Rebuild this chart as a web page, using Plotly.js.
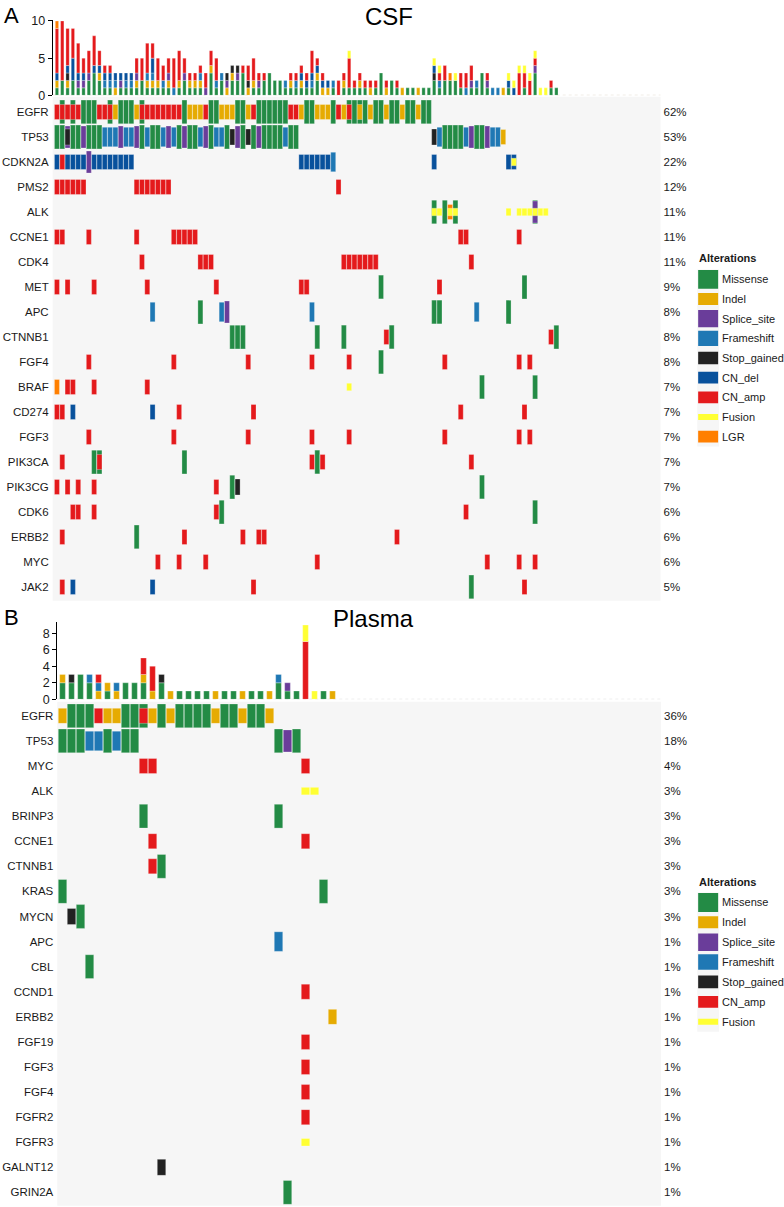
<!DOCTYPE html>
<html><head><meta charset="utf-8">
<script src="https://cdn.plot.ly/plotly-3.0.1.min.js"></script>
<style>html,body{margin:0;padding:0;background:#fff}#chart{width:784px;height:1207px}</style>
</head><body><div id="chart"></div>
<script>
// ---------------- DATA ----------------
// Alteration codes: M Missense, I Indel, P Splice_site, F Frameshift, S Stop_gained,
// D CN_del, A CN_amp, U Fusion, L LGR.  Tokens are "sampleIndex+codes".
const csfTotalSamples = 114;
const csfGenes = ["EGFR","TP53","CDKN2A","PMS2","ALK","CCNE1","CDK4","MET","APC","CTNNB1","FGF4","BRAF","CD274","FGF3","PIK3CA","PIK3CG","CDK6","ERBB2","MYC","JAK2"];
const csfPct = ["62%","53%","22%","12%","11%","11%","11%","9%","8%","8%","8%","7%","7%","7%","7%","7%","6%","6%","6%","5%"];
const csfCells = [
 "0A 1MA 2A 3MA 4A 5M 6M 7M 8A 9A 10MA 11I 12M 13M 14M 15I 16MA 17A 18A 19A 20A 21A 22A 23A 24M 25I 26I 27I 28A 29M 30M 31I 32I 33I 34M 35M 36I 37A 38M 39M 40M 41M 42M 43M 44A 45A 46I 47M 48M 49I 50I 51I 52M 53A 54I 55MA 56M 57MI 58M 59I 60M 61M 62I 63M 64M 65I 66M 67M 68I 69M 70M",
 "0M 1M 2PS 3M 4M 5P 6M 7M 8M 9F 10F 11F 12P 13F 14F 15P 16M 17F 18M 19M 20F 21P 22F 23M 24P 25M 26M 27F 28P 29M 30F 31F 32M 33S 34P 35M 36S 37M 38P 39M 40M 41M 42M 43F 44M 45M 71S 72F 73M 74M 75M 76M 77F 78P 79M 80M 81P 82F 83F 84I",
 "0D 1A 2D 3D 4D 5D 6P 7D 8D 9D 10D 11D 12D 13D 14D 46D 47D 48D 49D 50D 51D 52F 71D 85D 86DU",
 "0A 1A 2A 3A 4A 5A 15A 16A 17A 18A 19A 20A 21A 53A",
 "71MU 72U 73M 74LU 75MU 85U 87U 88U 89U 90MPU 91U 92U",
 "0A 1A 6A 15A 22A 23A 24A 25A 26A 76A 77A 87A",
 "16A 27A 28A 29A 54A 55A 56A 57A 58A 59A 60A 78A",
 "0A 2A 7A 17A 30A 46A 47A 61M 72A 88M",
 "18F 27M 31F 32P 48F 71M 72M 79F 85M",
 "33M 34M 35M 49M 54M 62A 63M 93A 94M",
 "6A 22A 36A 48A 55A 61M 73A 87A 89A",
 "0L 2A 3A 7A 17A 55U 80M 90M",
 "0A 1A 3D 18D 23A 37A 76A 88A",
 "6A 22A 36A 48A 55A 73A 87A 89A",
 "1A 7M 8MA 24M 48A 49M 50A 78A",
 "0A 2A 4A 7A 30A 33M 34S 80M",
 "3A 4A 7A 30A 31M 77A 90M",
 "1A 15M 24A 35A 38A 39A 64A",
 "19A 23A 28A 49A 81A 87A 90A",
 "1A 3D 18D 37A 78M 88A"
];
// Alteration counts per sample (top bar chart), one letter per alteration
const csfBarStacks = ["MIDAAAAAAL","MMAAAAAAAA","MISDAAAAA","MMDDDAAAA","MPDAAAA","MPDAA","MMPAAA","MMMDAAAA","MMIDAA","MFDA",
 "MFDA","IFD","MPD","MFD","MFD","MIPAA","MMAAA","MIFAAAA","MIFDDAA","MIAAA",
 "MFAA","MIPAA","FAAAA","MIAAAA","MMPAA","MIA","MIA","MIFA","PAA","MMMIAA",
 "MFAAA","MMF","IPS","MMIS","MMPS","MMMA","ISAA","MIAAA","MPA","MMA",
 "MMM","MM","MM","MF","MIA","MFA","MIDA","MDA","MFDAAA","MMIDA",
 "IDA","ID","MF","AA","MIA","MAAAAU","MA","MIA","MA","IA",
 "MA","MMM","IA","MM","MA","I","M","M","I","M",
 "M","MMSDU","MFAU","MMAA","MML","MMU","MAA","FAA","MPAA","MF",
 "MMM","MPA","F","F","I","MDU","DU","AAAU","MAAU","AAU",
 "MMMPAU","U","U","MA","M"];
const csfLegend = ["M","I","P","F","S","D","A","U","L"];

const plTotalSamples = 67;
const plGenes = ["EGFR","TP53","MYC","ALK","BRINP3","CCNE1","CTNNB1","KRAS","MYCN","APC","CBL","CCND1","ERBB2","FGF19","FGF3","FGF4","FGFR2","FGFR3","GALNT12","GRIN2A"];
const plPct = ["36%","18%","4%","3%","3%","3%","3%","3%","3%","1%","1%","1%","1%","1%","1%","1%","1%","1%","1%","1%"];
const plCells = [
 "0I 1M 2M 3M 4A 5I 6I 7M 8M 9MA 10I 11M 12I 13M 14M 15M 16M 17I 18M 19M 20I 21M 22M 23I",
 "0M 1M 2M 3F 4F 5M 6F 7M 8M 24M 25P 26M",
 "9A 10A 27A",
 "27U 28U",
 "9M 24M",
 "10A 27A",
 "10A 11M",
 "0M 29M",
 "1S 2M",
 "24F",
 "3M",
 "27A",
 "30I",
 "27A",
 "27A",
 "27A",
 "27A",
 "27U",
 "11S",
 "25M"
];
const plBarStacks = ["MMI","MMS","MMM","MMF","IFA","MI","IF","MM","MM","MMIAA",
 "IAAA","MMS","I","M","M","M","M","I","M","M",
 "I","M","M","I","MMF","MP","M","AAAAAAAUU","U","M","I"];
const plLegend = ["M","I","P","F","S","A","U"];

// ---------------- STYLE ----------------
const TYPES = {
 M:{name:"Missense",    color:"#238B45", h:0.95},
 I:{name:"Indel",       color:"#E6AB02", h:0.60},
 P:{name:"Splice_site", color:"#6A3D9A", h:0.88},
 F:{name:"Frameshift",  color:"#1F78B4", h:0.78},
 S:{name:"Stop_gained", color:"#222222", h:0.64},
 D:{name:"CN_del",      color:"#08519C", h:0.60},
 A:{name:"CN_amp",      color:"#E41A1C", h:0.60},
 U:{name:"Fusion",      color:"#FFFF33", h:0.30},
 L:{name:"LGR",         color:"#FF7F00", h:0.60}
};
const DRAW_ORDER = ["M","P","F","S","D","A","I","L","U"];
const STACK_ORDER = ["M","I","P","F","S","D","A","U","L"];
const W = 784, H = 1207;
const FONT = "Liberation Sans, Arial, Helvetica, sans-serif";
const fx = px => px / W;
const dom = (top, bottom) => [1 - bottom / H, 1 - top / H];

function parseCells(cells){
  return cells.map(row => row.split(/\s+/).filter(Boolean).map(t => {
    const m = t.match(/^(\d+)([A-Z]+)$/); return {s:+m[1], codes:m[2]};
  }));
}
function gridTraces(cells, xa, ya){
  const rows = parseCells(cells), out = [];
  DRAW_ORDER.forEach(code => {
    const xs=[], ys=[], bs=[];
    rows.forEach((row, r) => row.forEach(c => {
      if (c.codes.includes(code)) { xs.push(c.s); ys.push(TYPES[code].h); bs.push(r - TYPES[code].h/2); }
    }));
    if (xs.length) out.push({type:"bar", x:xs, y:ys, base:bs, xaxis:xa, yaxis:ya, width:0.94,
      marker:{color:TYPES[code].color, line:{color:"rgba(255,255,255,0.55)", width:0.5}},
      hoverinfo:"skip", showlegend:false});
  });
  return out;
}
function barTraces(stacks, xa, ya, w){
  const out = [];
  const cum = stacks.map(() => 0);
  STACK_ORDER.forEach(code => {
    const xs=[], ys=[], bs=[];
    stacks.forEach((st, i) => {
      const n = st.split("").filter(ch => ch === code).length;
      if (n) { xs.push(i); ys.push(n); bs.push(cum[i]); cum[i] += n; }
    });
    if (xs.length) out.push({type:"bar", x:xs, y:ys, base:bs, xaxis:xa, yaxis:ya, width:w,
      marker:{color:TYPES[code].color, line:{color:"rgba(255,255,255,0.7)", width:0.4}},
      hoverinfo:"skip", showlegend:false});
  });
  return out;
}
function legendTraces(codes, xa, ya){
  return codes.map((code, i) => ({type:"bar", x:[0], y:[TYPES[code].h], base:[i - TYPES[code].h/2],
    xaxis:xa, yaxis:ya, width:0.92, marker:{color:TYPES[code].color, line:{width:0}},
    hoverinfo:"skip", showlegend:false}));
}
const dummy = (xa, ya) => ({type:"scatter", mode:"markers", x:[0], y:[0], xaxis:xa, yaxis:ya,
  marker:{opacity:0, size:1}, hoverinfo:"skip", showlegend:false});

const data = [].concat(
  barTraces(csfBarStacks, "x", "y", 0.62),
  gridTraces(csfCells, "x2", "y2"),
  [dummy("x2","y3")],
  legendTraces(csfLegend, "x4", "y4"),
  barTraces(plBarStacks, "x5", "y5", 0.63),
  gridTraces(plCells, "x6", "y6"),
  [dummy("x6","y7")],
  legendTraces(plLegend, "x8", "y8")
);

const hidden = {showgrid:false, zeroline:false, showline:false, showticklabels:false, ticks:""};
const idx = n => Array.from({length:n}, (_, i) => i);
const csfXRange = [-0.80, csfTotalSamples - 0.4];
const plXRange = [-0.58, plTotalSamples - 0.5];
const tickFont = {family:FONT, size:11.5, color:"#1a1a1a"};
const pctFont = {family:FONT, size:11.5, color:"#1a1a1a"};
const legFont = {family:FONT, size:11, color:"#1a1a1a"};

const layout = {
  width:W, height:H, margin:{l:0, r:0, t:0, b:0}, paper_bgcolor:"#fff", plot_bgcolor:"rgba(0,0,0,0)",
  barmode:"overlay", showlegend:false, hovermode:false, font:{family:FONT, color:"#222"},
  // CSF
  xaxis:  Object.assign({domain:[fx(52.7), fx(660.5)], range:csfXRange, anchor:"y"}, hidden),
  yaxis:  {domain:dom(19.5, 95.3), range:[0, 10.2], anchor:"x", tickvals:[0,5,10], ticks:"outside", ticklen:4,
           tickwidth:1, tickcolor:"#000", showline:true, linecolor:"#000", linewidth:1, showgrid:false, zeroline:false,
           tickfont:{family:FONT, size:12.5, color:"#1a1a1a"}},
  xaxis2: Object.assign({domain:[fx(52.7), fx(660.5)], range:csfXRange, anchor:"y2"}, hidden),
  yaxis2: {domain:dom(96.7, 600.7), range:[19.548, -0.612], anchor:"x2", tickvals:idx(csfGenes.length), ticktext:csfGenes,
           ticks:"", ticklabelstandoff:3, showgrid:false, zeroline:false, showline:false, tickfont:tickFont},
  yaxis3: {overlaying:"y2", side:"right", anchor:"x2", range:[19.548, -0.612], tickvals:idx(csfPct.length), ticktext:csfPct,
           ticks:"", ticklabelstandoff:2, showgrid:false, zeroline:false, showline:false, tickfont:pctFont},
  xaxis4: Object.assign({domain:[fx(697.3), fx(719)], range:[-0.5, 0.5], anchor:"y4"}, hidden),
  yaxis4: {domain:dom(269.5, 446.5), range:[csfLegend.length - 0.5, -0.5], anchor:"x4", side:"right",
           tickvals:idx(csfLegend.length), ticktext:csfLegend.map(c => TYPES[c].name), ticks:"", ticklabelstandoff:2,
           showgrid:false, zeroline:false, showline:false, tickfont:legFont},
  // Plasma
  xaxis5: Object.assign({domain:[fx(57.3), fx(661)], range:plXRange, anchor:"y5"}, hidden),
  yaxis5: {domain:dom(621.7, 699.3), range:[0, 9.4], anchor:"x5", tickvals:[0,2,4,6,8], ticks:"outside", ticklen:4,
           tickwidth:1, tickcolor:"#000", showline:true, linecolor:"#000", linewidth:1, showgrid:false, zeroline:false,
           tickfont:{family:FONT, size:12.5, color:"#1a1a1a"}},
  xaxis6: Object.assign({domain:[fx(57.3), fx(661)], range:plXRange, anchor:"y6"}, hidden),
  yaxis6: {domain:dom(701.7, 1205.7), range:[19.53, -0.564], anchor:"x6", tickvals:idx(plGenes.length), ticktext:plGenes,
           ticks:"", ticklabelstandoff:3, showgrid:false, zeroline:false, showline:false, tickfont:tickFont},
  yaxis7: {overlaying:"y6", side:"right", anchor:"x6", range:[19.53, -0.564], tickvals:idx(plPct.length), ticktext:plPct,
           ticks:"", ticklabelstandoff:2, showgrid:false, zeroline:false, showline:false, tickfont:pctFont},
  xaxis8: Object.assign({domain:[fx(697.3), fx(719)], range:[-0.5, 0.5], anchor:"y8"}, hidden),
  yaxis8: {domain:dom(892.5, 1031.7), range:[plLegend.length - 0.5, -0.5], anchor:"x8", side:"right",
           tickvals:idx(plLegend.length), ticktext:plLegend.map(c => TYPES[c].name), ticks:"", ticklabelstandoff:2,
           showgrid:false, zeroline:false, showline:false, tickfont:legFont},
  shapes: [
    {type:"rect", xref:"x2 domain", yref:"y2 domain", x0:0, x1:1, y0:0, y1:1, fillcolor:"#F6F6F6", line:{width:0}, layer:"below"},
    {type:"rect", xref:"x4 domain", yref:"y4 domain", x0:0, x1:1, y0:0, y1:1, fillcolor:"#F6F6F6", line:{width:0}, layer:"below"},
    {type:"rect", xref:"x6 domain", yref:"y6 domain", x0:0, x1:1, y0:0, y1:1, fillcolor:"#F6F6F6", line:{width:0}, layer:"below"},
    {type:"rect", xref:"x8 domain", yref:"y8 domain", x0:0, x1:1, y0:0, y1:1, fillcolor:"#F6F6F6", line:{width:0}, layer:"below"},
    {type:"line", xref:"x domain", yref:"y", x0:0, x1:1, y0:0, y1:0, line:{color:"#D9D2C2", width:1, dash:"dot"}, layer:"below"},
    {type:"line", xref:"x5 domain", yref:"y5", x0:0, x1:1, y0:0, y1:0, line:{color:"#D6D6D6", width:1, dash:"dot"}, layer:"below"}
  ],
  annotations: [
    {text:"A", xref:"paper", yref:"paper", x:fx(2), y:1 - 1/H, xanchor:"left", yanchor:"top", showarrow:false, font:{family:FONT, size:22, color:"#000"}},
    {text:"CSF", xref:"paper", yref:"paper", x:fx(389), y:1 - 0.5/H, xanchor:"center", yanchor:"top", showarrow:false, font:{family:FONT, size:24, color:"#000"}},
    {text:"B", xref:"paper", yref:"paper", x:fx(2), y:1 - 617.7/H, xanchor:"left", yanchor:"middle", showarrow:false, font:{family:FONT, size:22, color:"#000"}},
    {text:"Plasma", xref:"paper", yref:"paper", x:fx(373), y:1 - 618.3/H, xanchor:"center", yanchor:"middle", showarrow:false, font:{family:FONT, size:24, color:"#000"}},
    {text:"<b>Alterations</b>", xref:"x4 domain", yref:"y4 domain", x:0, y:1, yshift:12, xanchor:"left", yanchor:"middle", showarrow:false, font:legFont},
    {text:"<b>Alterations</b>", xref:"x8 domain", yref:"y8 domain", x:0, y:1, yshift:11, xanchor:"left", yanchor:"middle", showarrow:false, font:legFont}
  ]
};

Plotly.newPlot("chart", data, layout, {staticPlot:true, displayModeBar:false});
</script>
</body></html>
